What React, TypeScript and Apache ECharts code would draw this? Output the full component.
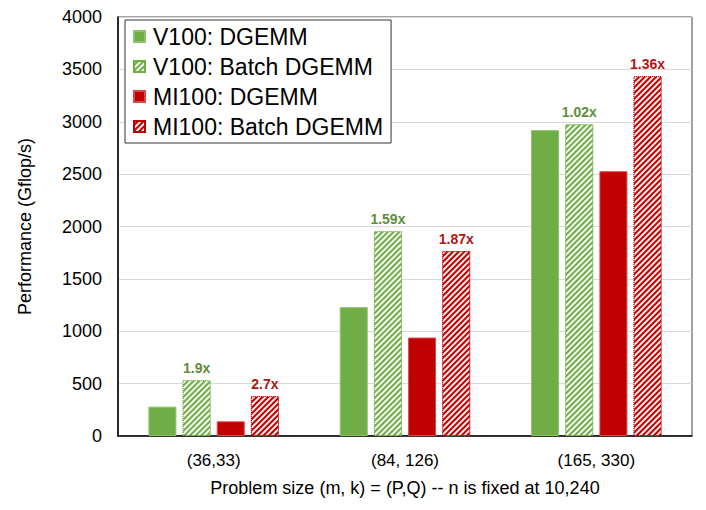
import React, { useEffect, useRef } from "react";
import * as echarts from "echarts";

const categories = ["(36,33)", "(84, 126)", "(165, 330)"];
const v100Dgemm = [280, 1230, 2920];
const v100Batch = [532, 1955, 2975];
const mi100Dgemm = [140, 940, 2528];
const mi100Batch = [380, 1765, 3435];
const v100Ratios = ["1.9x", "1.59x", "1.02x"];
const mi100Ratios = ["2.7x", "1.87x", "1.36x"];
const seriesNames = ["V100: DGEMM", "V100: Batch DGEMM", "MI100: DGEMM", "MI100: Batch DGEMM"];

const GREEN = "#70AD47";
const RED = "#C00000";
const FONT = "Liberation Sans, Arial, sans-serif";

const hatch = {
  symbol: "rect",
  symbolSize: 1,
  color: "rgba(255,255,255,0.92)",
  dashArrayX: [1, 0],
  dashArrayY: [1.6, 1.6],
  rotation: -Math.PI / 4,
};

export default function App() {
  const ref = useRef<HTMLDivElement>(null);
  useEffect(() => {
    const chart = echarts.init(ref.current!, null, { renderer: "svg" });
    chart.setOption({
      animation: false,
      textStyle: { fontFamily: FONT },
      grid: {
        left: 106,
        right: 6,
        top: 6,
        bottom: 59,
        show: true,
        borderColor: "#444",
        borderWidth: 1,
      },
      legend: {
        orient: "vertical",
        left: 117,
        top: 12,
        icon: "rect",
        itemWidth: 11,
        itemHeight: 11,
        itemGap: 7,
        padding: [5, 8, 5, 8],
        borderColor: "#333",
        borderWidth: 1,
        backgroundColor: "#fff",
        textStyle: { fontSize: 23, color: "#000", fontFamily: FONT, padding: [0, 0, 0, 3] },
        data: seriesNames,
      },
      xAxis: {
        type: "category",
        data: categories,
        name: "Problem size (m, k) = (P,Q) -- n is fixed at 10,240",
        nameLocation: "middle",
        nameGap: 43,
        nameTextStyle: { fontSize: 18, color: "#000" },
        axisLine: { lineStyle: { color: "#000", width: 1.5 } },
        axisTick: { show: false },
        axisLabel: { fontSize: 17, color: "#000", margin: 16 },
      },
      yAxis: {
        type: "value",
        min: 0,
        max: 4000,
        interval: 500,
        name: "Performance (Gflop/s)",
        nameLocation: "middle",
        nameGap: 84,
        nameTextStyle: { fontSize: 18, color: "#000" },
        axisLine: { show: true, lineStyle: { color: "#000", width: 1.5 } },
        axisTick: { show: false },
        axisLabel: { fontSize: 18, color: "#000", margin: 16, formatter: (v: number) => String(v) },
        splitLine: { lineStyle: { color: "#d9d9d9" } },
      },
      series: [
        {
          name: seriesNames[0],
          type: "bar",
          data: v100Dgemm,
          barWidth: 28,
          barGap: "22%",
          itemStyle: { color: GREEN, borderColor: "#8cc26a", borderWidth: 1 },
        },
        {
          name: seriesNames[1],
          type: "bar",
          data: v100Batch,
          barWidth: 28,
          barGap: "22%",
          itemStyle: { color: GREEN, decal: hatch, borderColor: GREEN, borderWidth: 1, borderType: "dotted" },
          label: {
            show: true,
            position: "top",
            distance: 5,
            fontSize: 14,
            fontWeight: "bold",
            color: "#5E8E3A",
            formatter: (p: any) => v100Ratios[p.dataIndex],
          },
        },
        {
          name: seriesNames[2],
          type: "bar",
          data: mi100Dgemm,
          barWidth: 28,
          barGap: "22%",
          itemStyle: { color: RED, borderColor: "#d84a4a", borderWidth: 1 },
        },
        {
          name: seriesNames[3],
          type: "bar",
          data: mi100Batch,
          barWidth: 28,
          barGap: "22%",
          itemStyle: { color: RED, decal: hatch, borderColor: RED, borderWidth: 1, borderType: "dotted" },
          label: {
            show: true,
            position: "top",
            distance: 5,
            fontSize: 14,
            fontWeight: "bold",
            color: "#B01515",
            formatter: (p: any) => mi100Ratios[p.dataIndex],
          },
        },
      ],
    });
    return () => chart.dispose();
  }, []);
  return <div ref={ref} style={{ width: 690, height: 494 }} />;
}
